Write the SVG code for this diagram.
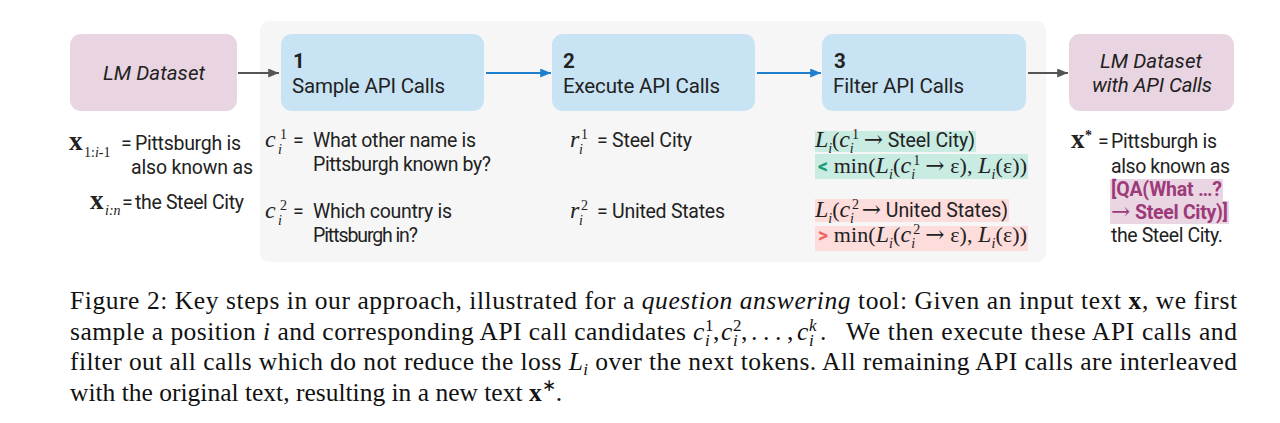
<svg xmlns="http://www.w3.org/2000/svg" width="1280" height="423" viewBox="0 0 1280 423">
<style>
.t{font-family:Roboto,"Liberation Sans",sans-serif;font-size:19.5px;fill:#222}
.h{font-size:20.5px}
.ti{font-style:italic}
.tb{font-weight:bold}
.m{font-family:"Liberation Serif",serif;font-size:22px;fill:#222}
.mv{font-size:24px}
.mi{font-style:italic}
.s{font-size:14px}
.ar{font-family:"DejaVu Serif",serif;font-size:23px}
.xb{font-family:"Liberation Serif",serif;font-size:27px;font-weight:bold;fill:#222}
.cap{font-family:"Liberation Serif",serif;font-size:25.5px;fill:#111}
.cs{font-size:17px}
.pink{fill:#e9d4e1}
.blue{fill:#c7e3f4}
.ga{stroke:#555;stroke-width:2.2;fill:none}
.ba{stroke:#1e7fcf;stroke-width:2.2;fill:none}
.pu{fill:#9c3a7a}
</style>
<defs>
<marker id="ahg" viewBox="0 0 12 10" refX="12" refY="5" markerWidth="12" markerHeight="9" markerUnits="userSpaceOnUse" orient="auto"><path d="M0,0 L12,5 L0,10 z" fill="#555"/></marker>
<marker id="ahb" viewBox="0 0 12 10" refX="12" refY="5" markerWidth="12" markerHeight="9" markerUnits="userSpaceOnUse" orient="auto"><path d="M0,0 L12,5 L0,10 z" fill="#1e7fcf"/></marker>
</defs>
<rect width="1280" height="423" fill="#fff"/>
<rect id="panel" x="260" y="21" width="786" height="241" rx="9" fill="#f6f6f6"/>

<g id="connectors">
<line class="ga" x1="238" y1="73" x2="279" y2="73" marker-end="url(#ahg)"/>
<line class="ba" x1="486" y1="73" x2="551" y2="73" marker-end="url(#ahb)"/>
<line class="ba" x1="757" y1="73" x2="821" y2="73" marker-end="url(#ahb)"/>
<line class="ga" x1="1028" y1="73" x2="1068" y2="73" marker-end="url(#ahg)"/>
</g>

<g id="lm-dataset">
<rect class="pink" x="70" y="34" width="167" height="77" rx="11"/>
<text class="t h ti" x="103" y="80" textLength="102" lengthAdjust="spacing">LM Dataset</text>
</g>
<g id="step1">
<rect class="blue" x="281" y="34" width="203" height="77" rx="11"/>
<text class="t h tb" x="293" y="68">1</text>
<text class="t h" x="292" y="93" textLength="153" lengthAdjust="spacing">Sample API Calls</text>
</g>
<g id="step2">
<rect class="blue" x="552" y="34" width="203" height="77" rx="11"/>
<text class="t h tb" x="563" y="68">2</text>
<text class="t h" x="563" y="93" textLength="157" lengthAdjust="spacing">Execute API Calls</text>
</g>
<g id="step3">
<rect class="blue" x="822" y="34" width="204" height="77" rx="11"/>
<text class="t h tb" x="834" y="68">3</text>
<text class="t h" x="833" y="93" textLength="131" lengthAdjust="spacing">Filter API Calls</text>
</g>
<g id="lm-dataset-api">
<rect class="pink" x="1069" y="34" width="165" height="77" rx="11"/>
<text class="t h ti" x="1100" y="68" textLength="102" lengthAdjust="spacing">LM Dataset</text>
<text class="t h ti" x="1092" y="92" textLength="120" lengthAdjust="spacing">with API Calls</text>
</g>

<g id="input-text">
<text class="xb" x="69" y="150">x</text>
<text class="m s" x="84" y="157">1:<tspan class="mi">i</tspan>-1</text>
<text class="t" x="121" y="150">=<tspan x="135" textLength="106" lengthAdjust="spacing">Pittsburgh is</tspan></text>
<text class="t" x="131" y="173.5" textLength="122" lengthAdjust="spacing">also known as</text>
<text class="xb" x="90" y="209">x</text>
<text class="m s mi" x="105" y="215">i:n</text>
<text class="t" x="122" y="209">=<tspan x="135" textLength="109" lengthAdjust="spacing">the Steel City</tspan></text>
</g>

<g id="candidates">
<text class="m mv mi" x="265" y="147">c</text>
<text class="m s" x="280" y="139">1</text>
<text class="m s mi" x="278" y="154">i</text>
<text class="t" x="293" y="147">=<tspan x="313" textLength="163" lengthAdjust="spacing">What other name is</tspan></text>
<text class="t" x="313" y="170.5" textLength="178" lengthAdjust="spacing">Pittsburgh known by?</text>
<text class="m mv mi" x="265" y="218">c</text>
<text class="m s" x="280" y="210">2</text>
<text class="m s mi" x="278" y="225">i</text>
<text class="t" x="293" y="218">=<tspan x="313" textLength="139" lengthAdjust="spacing">Which country is</tspan></text>
<text class="t" x="313" y="241.5" textLength="105" lengthAdjust="spacing">Pittsburgh in?</text>
</g>

<g id="results">
<text class="m mv mi" x="570" y="147">r</text>
<text class="m s" x="581" y="139">1</text>
<text class="m s mi" x="579" y="154">i</text>
<text class="t" x="597" y="147">=<tspan x="612" textLength="80" lengthAdjust="spacing">Steel City</tspan></text>
<text class="m mv mi" x="570" y="218">r</text>
<text class="m s" x="581" y="210">2</text>
<text class="m s mi" x="579" y="225">i</text>
<text class="t" x="597" y="218">=<tspan x="612" textLength="113" lengthAdjust="spacing">United States</tspan></text>
</g>

<g id="filter">
<rect x="815" y="131" width="161" height="21" fill="#c8ebe2"/>
<rect x="815" y="154" width="213" height="25" fill="#c8ebe2"/>
<rect x="815" y="199" width="194" height="23" fill="#fddcdc"/>
<rect x="815" y="226" width="213" height="25" fill="#fddcdc"/>

<text class="m" x="815" y="147" textLength="160" lengthAdjust="spacing"><tspan class="mv mi">L</tspan><tspan class="s mi" dy="6">i</tspan><tspan dy="-6">(</tspan><tspan class="mv mi">c</tspan><tspan class="s" dx="2" dy="-8">1</tspan><tspan class="s mi" dx="-9" dy="14">i</tspan><tspan class="ar" dx="10" dy="-6">→</tspan><tspan class="t"> Steel City)</tspan></text>

<text class="m" x="818" y="172.5" textLength="209" lengthAdjust="spacing"><tspan class="t tb" style="fill:#1a9b78">&lt;</tspan> min(<tspan class="mv mi">L</tspan><tspan class="s mi" dy="6">i</tspan><tspan dy="-6">(</tspan><tspan class="mv mi">c</tspan><tspan class="s" dx="2" dy="-8">1</tspan><tspan class="s mi" dx="-9" dy="14">i</tspan><tspan class="ar" dx="10" dy="-6">→</tspan> ε), <tspan class="mv mi">L</tspan><tspan class="s mi" dy="6">i</tspan><tspan dy="-6">(ε))</tspan></text>

<text class="m" x="815" y="217" textLength="193" lengthAdjust="spacing"><tspan class="mv mi">L</tspan><tspan class="s mi" dy="6">i</tspan><tspan dy="-6">(</tspan><tspan class="mv mi">c</tspan><tspan class="s" dx="2" dy="-8">2</tspan><tspan class="s mi" dx="-9" dy="14">i</tspan><tspan class="ar" dx="8" dy="-6">→</tspan><tspan class="t"> United States)</tspan></text>

<text class="m" x="818" y="241.5" textLength="209" lengthAdjust="spacing"><tspan class="t tb" style="fill:#f0655f">&gt;</tspan> min(<tspan class="mv mi">L</tspan><tspan class="s mi" dy="6">i</tspan><tspan dy="-6">(</tspan><tspan class="mv mi">c</tspan><tspan class="s" dx="2" dy="-8">2</tspan><tspan class="s mi" dx="-9" dy="14">i</tspan><tspan class="ar" dx="10" dy="-6">→</tspan> ε), <tspan class="mv mi">L</tspan><tspan class="s mi" dy="6">i</tspan><tspan dy="-6">(ε))</tspan></text>
</g>

<g id="output-text">
<rect x="1110" y="179" width="113" height="22" fill="#ead5e3"/>
<rect x="1110" y="201" width="119" height="23" fill="#ead5e3"/>
<text class="xb" x="1071" y="148">x</text>
<text class="m s tb" x="1085" y="140">*</text>
<text class="t" x="1098" y="148">=<tspan x="1111" textLength="106" lengthAdjust="spacing">Pittsburgh is</tspan></text>
<text class="t" x="1111" y="172.5" textLength="119" lengthAdjust="spacing">also known as</text>
<text class="t tb pu" x="1111" y="195.5" textLength="111" lengthAdjust="spacing">[QA(What …?</text>
<text class="m ar pu" x="1111" y="218.5">→</text>
<text class="t tb pu" x="1135" y="218.5" textLength="93" lengthAdjust="spacing">Steel City)]</text>
<text class="t" x="1111" y="241.5" textLength="112" lengthAdjust="spacing">the Steel City.</text>
</g>

<g id="caption">
<text class="cap" x="70" y="309" textLength="1167" lengthAdjust="spacing">Figure 2:  Key steps in our approach, illustrated for a <tspan font-style="italic">question answering</tspan> tool:  Given an input text <tspan font-weight="bold">x</tspan>, we first</text>
<text class="cap" x="70" y="340" textLength="616" lengthAdjust="spacing">sample a position <tspan font-style="italic">i</tspan> and corresponding API call candidates</text>
<text class="cap mi" x="693" y="340">c</text>
<text class="cap cs" x="705" y="331">1</text>
<text class="cap cs mi" x="705" y="346">i</text>
<text class="cap" x="713" y="340">,</text>
<text class="cap mi" x="721" y="340">c</text>
<text class="cap cs" x="733" y="331">2</text>
<text class="cap cs mi" x="733" y="346">i</text>
<text class="cap" x="741" y="340">,</text>
<text class="cap" x="751" y="340">.</text>
<text class="cap" x="763" y="340">.</text>
<text class="cap" x="775" y="340">.</text>
<text class="cap" x="787" y="340">,</text>
<text class="cap mi" x="797" y="340">c</text>
<text class="cap cs mi" x="809" y="331">k</text>
<text class="cap cs mi" x="809" y="346">i</text>
<text class="cap" x="820" y="340">.</text>
<text class="cap" x="846" y="340" textLength="391" lengthAdjust="spacing">We then execute these API calls and</text>
<text class="cap" x="70" y="370" textLength="1167" lengthAdjust="spacing">filter out all calls which do not reduce the loss <tspan font-style="italic">L</tspan><tspan class="cs" font-style="italic" dy="5">i</tspan><tspan dy="-5"> over the next tokens.  All remaining API calls are interleaved</tspan></text>
<text class="cap" x="70" y="401">with the original text, resulting in a new text <tspan font-weight="bold">x</tspan><tspan class="cs" dy="-10">∗</tspan><tspan dy="10">.</tspan></text>
</g>
</svg>
